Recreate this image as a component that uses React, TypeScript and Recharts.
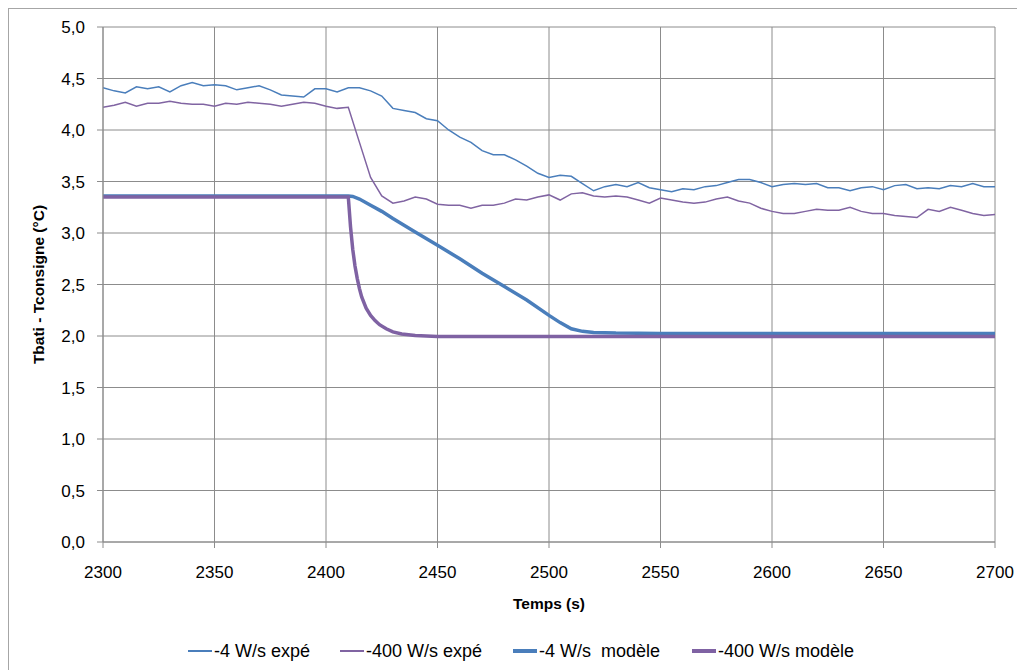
import React from 'react';
import { LineChart, Line, XAxis, YAxis, CartesianGrid, Legend } from 'recharts';

// experimental samples, every 5 s
const expTimes = [
  2300, 2305, 2310, 2315, 2320, 2325, 2330, 2335, 2340, 2345,
  2350, 2355, 2360, 2365, 2370, 2375, 2380, 2385, 2390, 2395,
  2400, 2405, 2410, 2415, 2420, 2425, 2430, 2435, 2440, 2445,
  2450, 2455, 2460, 2465, 2470, 2475, 2480, 2485, 2490, 2495,
  2500, 2505, 2510, 2515, 2520, 2525, 2530, 2535, 2540, 2545,
  2550, 2555, 2560, 2565, 2570, 2575, 2580, 2585, 2590, 2595,
  2600, 2605, 2610, 2615, 2620, 2625, 2630, 2635, 2640, 2645,
  2650, 2655, 2660, 2665, 2670, 2675, 2680, 2685, 2690, 2695,
  2700,
];

const exp4 = [
  4.41, 4.38, 4.36, 4.42, 4.40, 4.42, 4.37, 4.43, 4.46, 4.43,
  4.44, 4.43, 4.39, 4.41, 4.43, 4.39, 4.34, 4.33, 4.32, 4.40,
  4.40, 4.37, 4.41, 4.41, 4.38, 4.33, 4.21, 4.19, 4.17, 4.11,
  4.09, 4.00, 3.93, 3.88, 3.80, 3.76, 3.76, 3.71, 3.65, 3.58,
  3.54, 3.56, 3.55, 3.48, 3.41, 3.45, 3.47, 3.45, 3.49, 3.44,
  3.42, 3.40, 3.43, 3.42, 3.45, 3.46, 3.49, 3.52, 3.52, 3.49,
  3.45, 3.47, 3.48, 3.47, 3.48, 3.44, 3.44, 3.41, 3.44, 3.45,
  3.42, 3.46, 3.47, 3.43, 3.44, 3.43, 3.46, 3.45, 3.48, 3.45,
  3.45,
];

const exp400 = [
  4.22, 4.24, 4.27, 4.23, 4.26, 4.26, 4.28, 4.26, 4.25, 4.25,
  4.23, 4.26, 4.25, 4.27, 4.26, 4.25, 4.23, 4.25, 4.27, 4.26,
  4.23, 4.21, 4.22, 3.88, 3.54, 3.36, 3.29, 3.31, 3.35, 3.33,
  3.28, 3.27, 3.27, 3.24, 3.27, 3.27, 3.29, 3.33, 3.32, 3.35,
  3.37, 3.32, 3.38, 3.39, 3.36, 3.35, 3.36, 3.35, 3.32, 3.29,
  3.34, 3.32, 3.30, 3.29, 3.30, 3.33, 3.35, 3.31, 3.29, 3.24,
  3.21, 3.19, 3.19, 3.21, 3.23, 3.22, 3.22, 3.25, 3.21, 3.19,
  3.19, 3.17, 3.16, 3.15, 3.23, 3.21, 3.25, 3.22, 3.19, 3.17,
  3.18,
];

// model curves
const model4Times = [2300, 2410, 2412, 2415, 2420, 2425, 2430, 2440, 2450, 2460, 2470, 2480, 2490, 2500, 2505, 2510, 2515, 2520, 2530, 2550, 2700];
const model4 = [3.36, 3.36, 3.355, 3.33, 3.27, 3.21, 3.14, 3.01, 2.88, 2.75, 2.61, 2.48, 2.35, 2.20, 2.13, 2.07, 2.045, 2.035, 2.028, 2.025, 2.025];

const model400Times = [2300, 2410, 2411, 2412, 2413, 2414, 2415, 2416, 2418, 2420, 2422, 2424, 2427, 2430, 2434, 2440, 2450, 2700];
const model400 = [3.35, 3.35, 3.06, 2.84, 2.68, 2.56, 2.46, 2.38, 2.27, 2.20, 2.15, 2.11, 2.07, 2.04, 2.02, 2.005, 1.995, 1.995];

const xTicks = [2300, 2350, 2400, 2450, 2500, 2550, 2600, 2650, 2700];
const yTicks = [0, 0.5, 1, 1.5, 2, 2.5, 3, 3.5, 4, 4.5, 5];

const toPoints = (ts: number[], vs: number[]) => ts.map((t, i) => ({ t, v: vs[i] }));

const series = [
  { name: '-4 W/s expé', data: toPoints(expTimes, exp4), color: '#4a7ebb', width: 1.5 },
  { name: '-400 W/s expé', data: toPoints(expTimes, exp400), color: '#8064a2', width: 1.5 },
  { name: '-4 W/s  modèle', data: toPoints(model4Times, model4), color: '#4a7ebb', width: 3.5 },
  { name: '-400 W/s modèle', data: toPoints(model400Times, model400), color: '#7f62a3', width: 3.5 },
];

const legendWidths = [152, 173, 179, 180];

const LegendBox = () => (
  <div style={{ height: 50, paddingTop: 30, paddingLeft: 178, display: 'flex', boxSizing: 'border-box' }}>
    {series.map((s, i) => (
      <div key={s.name} style={{ width: legendWidths[i], display: 'flex', alignItems: 'center', height: 18 }}>
        <svg width={26} height={18}>
          <line x1={1} y1={9} x2={25} y2={9} stroke={s.color} strokeWidth={s.width + 0.5} />
        </svg>
        <span style={{ fontSize: 18, color: '#000', whiteSpace: 'pre', marginLeft: 1, lineHeight: '18px' }}>{s.name}</span>
      </div>
    ))}
  </div>
);

const gray = '#8c8c8c';

export default function App() {
  return (
    <div style={{ width: 1017, height: 670, paddingLeft: 8, paddingTop: 8, boxSizing: 'border-box', overflow: 'hidden' }}>
      <style>{'html { overflow: hidden; } body { margin: 0; }'}</style>
      <div
        style={{
          width: 1009,
          height: 662,
          boxSizing: 'border-box',
          borderLeft: '1px solid #a6a6a6',
          borderTop: '1px solid #a6a6a6',
          fontFamily: '"Liberation Sans", Arial, sans-serif',
        }}
      >
        <LineChart width={1008} height={653} margin={{ top: 18, right: 22, left: 0, bottom: 0 }}>
          <CartesianGrid stroke={gray} strokeWidth={1} />
          <XAxis
            dataKey="t"
            type="number"
            domain={[2300, 2700]}
            ticks={xTicks}
            allowDataOverflow
            height={70}
            tickSize={6}
            tickMargin={18}
            stroke={gray}
            tick={{ fill: '#000', fontSize: 17 }}
            label={{ value: 'Temps (s)', position: 'insideBottom', offset: 3, style: { fontWeight: 'bold', fontSize: 15.5, fill: '#000' } }}
          />
          <YAxis
            type="number"
            domain={[0, 5]}
            ticks={yTicks}
            width={94}
            tickSize={6}
            tickMargin={12}
            stroke={gray}
            tick={{ fill: '#000', fontSize: 17 }}
            tickFormatter={(v: number) => v.toFixed(1).replace('.', ',')}
            label={{ value: 'Tbati - Tconsigne (°C)', angle: -90, position: 'center', dx: -18, style: { fontWeight: 'bold', fontSize: 15.5, fill: '#000' } }}
          />
          <Legend verticalAlign="bottom" content={() => <LegendBox />} />
          {series.map((s) => (
            <Line
              key={s.name}
              data={s.data}
              dataKey="v"
              name={s.name}
              type="linear"
              stroke={s.color}
              strokeWidth={s.width}
              dot={false}
              activeDot={false}
              isAnimationActive={false}
            />
          ))}
        </LineChart>
      </div>
    </div>
  );
}
